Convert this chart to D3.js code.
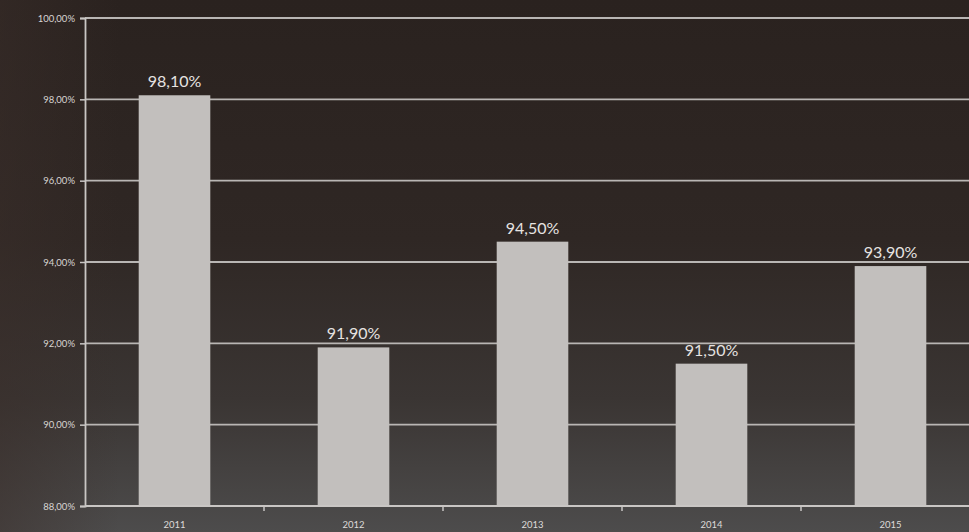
<!DOCTYPE html>
<html><head><meta charset="utf-8">
<script src="https://cdn.jsdelivr.net/npm/d3@7"></script>
<style>
html,body{margin:0;padding:0;background:#2a2320;}
svg{display:block;}
</style></head>
<body>
<svg id="chart" width="969" height="532"></svg>
<script>
const categories = ["2011", "2012", "2013", "2014", "2015"];
const values = [98.10, 91.90, 94.50, 91.50, 93.90];
const valueLabels = ["98,10%", "91,90%", "94,50%", "91,50%", "93,90%"];
const yTicks = [88, 90, 92, 94, 96, 98, 100];
const yTickLabels = ["88,00%", "90,00%", "92,00%", "94,00%", "96,00%", "98,00%", "100,00%"];

const W = 969, H = 532;
const svg = d3.select("#chart");
const defs = svg.append("defs");
const g1 = defs.append("linearGradient").attr("id","bg").attr("x1",0).attr("y1",0).attr("x2",0).attr("y2",1);
g1.append("stop").attr("offset","0%").attr("stop-color","#2a221f");
g1.append("stop").attr("offset","45%").attr("stop-color","#2f2724");
g1.append("stop").attr("offset","75%").attr("stop-color","#3a3533");
g1.append("stop").attr("offset","100%").attr("stop-color","#4d4c4c");
svg.append("rect").attr("width",W).attr("height",H).attr("fill","url(#bg)");
const g2 = defs.append("linearGradient").attr("id","side").attr("x1",0).attr("y1",0).attr("x2",1).attr("y2",0);
g2.append("stop").attr("offset","0%").attr("stop-color","#3a2e2a").attr("stop-opacity",0.5);
g2.append("stop").attr("offset","100%").attr("stop-color","#3a2e2a").attr("stop-opacity",0);
svg.append("rect").attr("width",120).attr("height",H).attr("fill","url(#side)");

const x = d3.scaleBand().domain(categories).range([85, 980]).paddingInner(0.6).paddingOuter(0.3);
const y = d3.scaleLinear().domain([88, 100]).range([506, 18]);

// gridlines
svg.append("g").selectAll("line").data(yTicks.slice(1)).join("line")
  .attr("x1", 85).attr("x2", W)
  .attr("y1", d => y(d)).attr("y2", d => y(d))
  .attr("stroke", "#b9b6b4").attr("stroke-width", 1.8);

// bars
svg.append("g").selectAll("rect").data(values).join("rect")
  .attr("x", (d,i) => x(categories[i]))
  .attr("width", x.bandwidth())
  .attr("y", d => y(d))
  .attr("height", d => y(88) - y(d))
  .attr("fill", "#c2bfbd");

// y axis
const yAxis = d3.axisLeft(y).tickValues(yTicks).tickSize(5).tickPadding(5)
  .tickFormat((d,i) => yTickLabels[i]);
const ya = svg.append("g").attr("transform","translate(85,0)").call(yAxis);
ya.select(".domain").attr("stroke","#c9c6c4").attr("stroke-width",1.8);
ya.selectAll(".tick line").attr("stroke","#c9c6c4").attr("stroke-width",1.5);
ya.selectAll(".tick text").attr("fill","#d8d5d3").style("font-family","Lato, 'Open Sans', sans-serif").style("font-size","9.5px");

// x axis
const xb = d3.scaleLinear().domain([0,5]).range([85,980]);
svg.append("line").attr("x1",85).attr("x2",W).attr("y1",y(88)).attr("y2",y(88))
  .attr("stroke","#c9c6c4").attr("stroke-width",1.8);
svg.append("g").selectAll("line").data(d3.range(1,5)).join("line")
  .attr("x1", d => xb(d)).attr("x2", d => xb(d))
  .attr("y1", y(88)).attr("y2", y(88)+5)
  .attr("stroke","#c9c6c4").attr("stroke-width",1.5);
svg.append("g").selectAll("text").data(categories).join("text")
  .attr("x", d => x(d) + x.bandwidth()/2)
  .attr("y", 528)
  .attr("text-anchor","middle")
  .attr("fill","#dedbd9")
  .style("font-family","Lato, 'Open Sans', sans-serif").style("font-size","9.5px")
  .text(d => d);

// value labels
svg.append("g").selectAll("text").data(values).join("text")
  .attr("x", (d,i) => x(categories[i]) + x.bandwidth()/2)
  .attr("y", d => y(d) - 8)
  .attr("text-anchor","middle")
  .attr("fill","#e6e3e1")
  .style("font-family","Lato, 'Open Sans', sans-serif").style("font-size","16px")
  .text((d,i) => valueLabels[i]);
</script>
</body></html>
